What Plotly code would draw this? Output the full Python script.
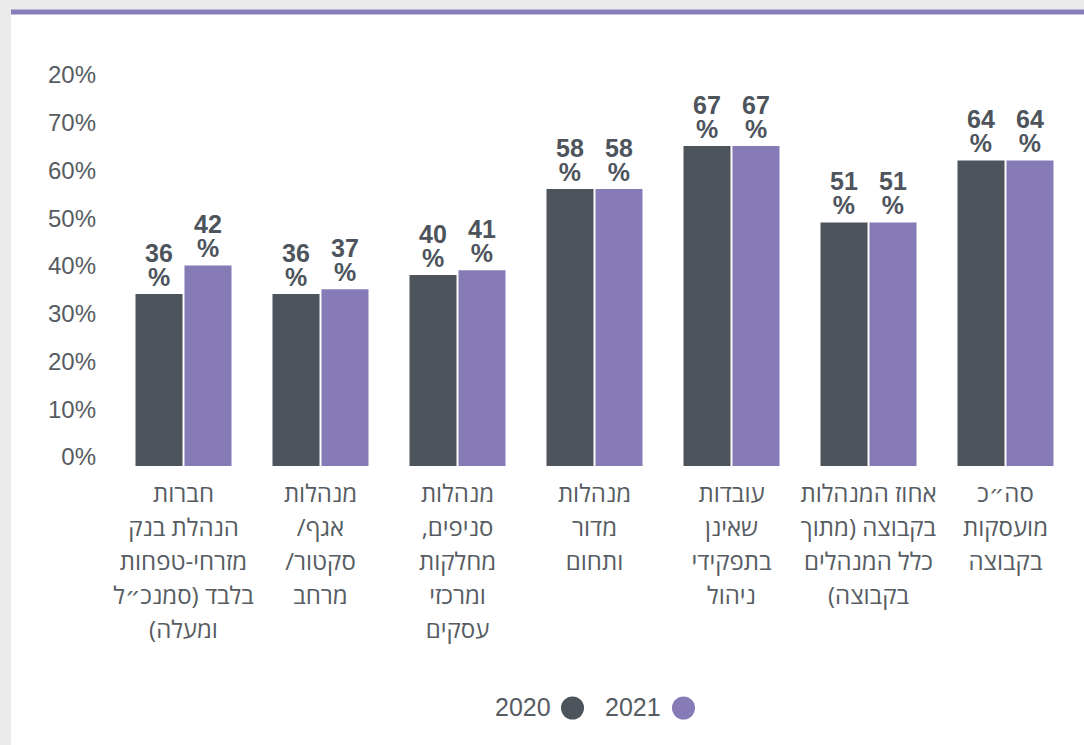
import plotly.graph_objects as go

category_lines = [
    ["חברות", "הנהלת בנק", "מזרחי-טפחות", "בלבד (סמנכ״ל", "ומעלה)"],
    ["מנהלות", "אגף/", "סקטור/", "מרחב"],
    ["מנהלות", "סניפים,", "מחלקות", "ומרכזי", "עסקים"],
    ["מנהלות", "מדור", "ותחום"],
    ["עובדות", "שאינן", "בתפקידי", "ניהול"],
    ["אחוז המנהלות", "בקבוצה (מתוך", "כלל המנהלים", "בקבוצה)"],
    ["סה״כ", "מועסקות", "בקבוצה"],
]
values_2020 = [36, 36, 40, 58, 67, 51, 64]
values_2021 = [42, 37, 41, 58, 67, 51, 64]
series_names = ["2020", "2021"]
tick_values = [0, 10, 20, 30, 40, 50, 60, 70, 80]
tick_labels = ["0%", "10%", "20%", "30%", "40%", "50%", "60%", "70%", "20%"]

RLM = "\u200f"
categories = ["<br>".join(f"<span style='font-size:24px'>{RLM}{ln}{RLM}</span>"
                          for ln in lines) for lines in category_lines]

C_DARK = "#4d545c"
C_PURPLE = "#867bb7"
C_TEXT = "#565c62"

W, H = 1084, 745
ML, MR, MT, MB = 115, 10, 84, 279
PW, PH = W - ML - MR, H - MT - MB


def px(x):
    return (x - ML) / PW


def py(y):
    return (H - MB - y) / PH


def value_label(v):
    return (f"<span style='font-size:25px'><b>{v}</b></span><br>"
            f"<span style='font-size:25px'><b>%</b></span>")


fig = go.Figure()
for name, vals, col in [(series_names[0], values_2020, C_DARK),
                        (series_names[1], values_2021, C_PURPLE)]:
    fig.add_trace(go.Bar(
        x=categories, y=vals, name=name, marker_color=col,
        marker_line_width=0,
        text=[value_label(v) for v in vals], texttemplate="%{text}",
        textposition="outside",
        textfont=dict(family="Liberation Sans, Arial", size=18.5, color=C_DARK),
        constraintext="none", cliponaxis=False, showlegend=False,
        hoverinfo="skip",
    ))

shapes = [
    dict(type="rect", xref="paper", yref="paper", x0=px(11), x1=px(W + 5),
         y0=py(H + 5), y1=py(10), fillcolor="white", line_width=0, layer="below"),
    dict(type="rect", xref="paper", yref="paper", x0=px(11), x1=px(W + 5),
         y0=py(14.5), y1=py(9.5), fillcolor="#8a7dbc", line_width=0, layer="below"),
]
annotations = []
for name, col, tx, cx in [(series_names[0], C_DARK, 553, 572.5),
                          (series_names[1], C_PURPLE, 663, 683.5)]:
    shapes.append(dict(type="circle", xref="paper", yref="paper",
                       xsizemode="pixel", ysizemode="pixel",
                       xanchor=px(cx), yanchor=py(708),
                       x0=-11.5, x1=11.5, y0=-11.5, y1=11.5,
                       fillcolor=col, line_width=0))
    annotations.append(dict(xref="paper", yref="paper", x=px(tx), y=py(707),
                            xanchor="right", yanchor="middle", showarrow=False,
                            text=name,
                            font=dict(family="Liberation Sans, Arial", size=25,
                                      color=C_TEXT)))

fig.update_layout(
    width=W, height=H,
    margin=dict(l=ML, r=MR, t=MT, b=MB, pad=0),
    paper_bgcolor="#ebebeb", plot_bgcolor="rgba(0,0,0,0)",
    barmode="group", bargap=0.285, bargroupgap=0.04,
    shapes=shapes, annotations=annotations,
    xaxis=dict(showgrid=False, zeroline=False, showline=False, ticks="",
               tickfont=dict(family="Open Sans, DejaVu Sans", size=26.2, color=C_TEXT),
               ticklabelstandoff=9, tickangle=0),
    yaxis=dict(range=[0, 80], showgrid=False, zeroline=False, showline=False,
               ticks="", tickvals=tick_values, ticktext=tick_labels,
               tickfont=dict(family="Liberation Sans, Arial", size=24, color=C_TEXT),
               ticklabelshift=-9, ticklabelstandoff=18),
)

fig.write_html("out.html")
